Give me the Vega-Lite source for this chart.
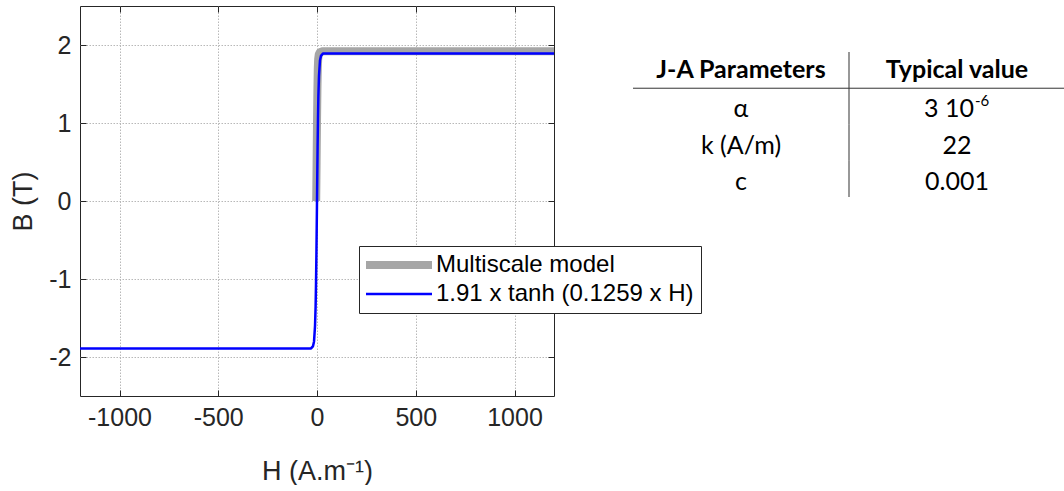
{
  "$schema": "https://vega.github.io/schema/vega-lite/v6.json",
  "background": "white",
  "padding": {"left": 9, "top": 5, "right": 0, "bottom": 0},
  "spacing": 73,
  "datasets": {
    "curves": [
      {"series": "Multiscale model", "H": -4, "B": 0},
      {"series": "Multiscale model", "H": -2, "B": 0.5},
      {"series": "Multiscale model", "H": 0, "B": 1.0},
      {"series": "Multiscale model", "H": 2, "B": 1.4},
      {"series": "Multiscale model", "H": 4, "B": 1.7},
      {"series": "Multiscale model", "H": 6, "B": 1.82},
      {"series": "Multiscale model", "H": 9, "B": 1.88},
      {"series": "Multiscale model", "H": 15, "B": 1.91},
      {"series": "Multiscale model", "H": 30, "B": 1.92},
      {"series": "Multiscale model", "H": 1200, "B": 1.92},
      {"series": "1.91 x tanh (0.1259 x H)", "H": -1200, "B": -1.89},
      {"series": "1.91 x tanh (0.1259 x H)", "H": -30, "B": -1.89},
      {"series": "1.91 x tanh (0.1259 x H)", "H": -20, "B": -1.86},
      {"series": "1.91 x tanh (0.1259 x H)", "H": -15, "B": -1.8},
      {"series": "1.91 x tanh (0.1259 x H)", "H": -10, "B": -1.6},
      {"series": "1.91 x tanh (0.1259 x H)", "H": -7, "B": -1.35},
      {"series": "1.91 x tanh (0.1259 x H)", "H": -5, "B": -1.06},
      {"series": "1.91 x tanh (0.1259 x H)", "H": -3, "B": -0.69},
      {"series": "1.91 x tanh (0.1259 x H)", "H": -1.5, "B": -0.35},
      {"series": "1.91 x tanh (0.1259 x H)", "H": 0, "B": 0},
      {"series": "1.91 x tanh (0.1259 x H)", "H": 1.5, "B": 0.35},
      {"series": "1.91 x tanh (0.1259 x H)", "H": 3, "B": 0.69},
      {"series": "1.91 x tanh (0.1259 x H)", "H": 5, "B": 1.06},
      {"series": "1.91 x tanh (0.1259 x H)", "H": 7, "B": 1.35},
      {"series": "1.91 x tanh (0.1259 x H)", "H": 10, "B": 1.6},
      {"series": "1.91 x tanh (0.1259 x H)", "H": 15, "B": 1.8},
      {"series": "1.91 x tanh (0.1259 x H)", "H": 20, "B": 1.86},
      {"series": "1.91 x tanh (0.1259 x H)", "H": 30, "B": 1.89},
      {"series": "1.91 x tanh (0.1259 x H)", "H": 1200, "B": 1.89}
    ],
    "table": [
      {"row": "h", "param": "J-A Parameters", "value": "Typical value"},
      {"row": "a", "param": "α", "value": "3 10", "sup": "-6"},
      {"row": "k", "param": "k (A/m)", "value": "22"},
      {"row": "c", "param": "c", "value": "0.001"}
    ]
  },
  "config": {
    "view": {"stroke": null},
    "font": "Liberation Sans",
    "axis": {
      "labelFont": "Liberation Sans",
      "titleFont": "Liberation Sans",
      "labelFontSize": 25,
      "titleFontSize": 27,
      "titleFontWeight": "normal",
      "labelColor": "#262626",
      "titleColor": "#262626",
      "tickColor": "#262626",
      "domain": false,
      "gridColor": "#b8b8b8",
      "gridDash": [1.5, 1.5],
      "gridWidth": 1,
      "labelExpr": "'' + datum.value"
    }
  },
  "hconcat": [
    {
      "width": 474,
      "height": 390,
      "view": {"stroke": "#262626", "strokeWidth": 1},
      "data": {"name": "curves"},
      "resolve": {"axis": {"x": "independent", "y": "independent"}},
      "layer": [
        {
          "transform": [{"filter": "datum.series === 'Multiscale model'"}],
          "mark": {"type": "line", "strokeWidth": 8, "strokeJoin": "round", "strokeCap": "butt"},
          "encoding": {
            "x": {"field": "H", "type": "quantitative", "scale": {"domain": [-1200, 1200], "nice": false, "zero": false},
              "axis": {"values": [-1000, -500, 0, 500, 1000], "title": "H (A.m⁻¹)", "grid": true, "tickSize": -6, "labelPadding": 15, "titlePadding": 28}},
            "y": {"field": "B", "type": "quantitative", "scale": {"domain": [-2.5, 2.5], "nice": false, "zero": false},
              "axis": {"values": [-2, -1, 0, 1, 2], "title": "B (T)", "grid": true, "tickSize": -6, "labelPadding": 15, "titlePadding": 11}},
            "color": {"field": "series", "type": "nominal",
              "scale": {"domain": ["Multiscale model", "1.91 x tanh (0.1259 x H)"], "range": ["#a6a6a6", "#0000ff"]},
              "legend": {
                "title": null, "orient": "none", "legendX": 279, "legendY": 240,
                "symbolType": "M-1,0H4.5", "symbolSize": 576,
                "labelFontSize": 24, "labelFont": "Liberation Sans", "labelColor": "#000000", "labelLimit": 500,
                "labelOffset": 46, "strokeColor": "#262626", "fillColor": "white", "padding": 7, "rowPadding": 1,
                "symbolStrokeWidth": 3,
                "encode": {"symbols": {"update": {"strokeWidth": {"signal": "datum.value === 'Multiscale model' ? 8 : 2.5"}}}}
              }
            }
          }
        },
        {
          "transform": [{"filter": "datum.series !== 'Multiscale model'"}],
          "mark": {"type": "line", "strokeWidth": 2.5, "strokeJoin": "round"},
          "encoding": {
            "x": {"field": "H", "type": "quantitative", "scale": {"domain": [-1200, 1200], "nice": false, "zero": false},
              "axis": {"orient": "top", "values": [-1000, -500, 0, 500, 1000], "labels": false, "title": null, "grid": false, "tickSize": -6}},
            "y": {"field": "B", "type": "quantitative", "scale": {"domain": [-2.5, 2.5], "nice": false, "zero": false},
              "axis": {"orient": "right", "values": [-2, -1, 0, 1, 2], "labels": false, "title": null, "grid": false, "tickSize": -6}},
            "color": {"field": "series", "type": "nominal"}
          }
        }
      ]
    },
    {
      "width": 432,
      "height": 191,
      "data": {"name": "table"},
      "layer": [
        {
          "transform": [{"filter": "datum.row === 'h'"}],
          "mark": {"type": "rule", "color": "#333333", "strokeWidth": 1},
          "encoding": {
            "y": {"datum": "a", "type": "nominal", "bandPosition": 0,
              "scale": {"domain": ["h", "a", "k", "c"], "paddingInner": 0, "paddingOuter": 0.634, "align": 1}, "axis": null}
          }
        },
        {
          "mark": {"type": "tick", "orient": "vertical", "size": 36.25, "thickness": 1, "color": "#333333", "opacity": 1},
          "encoding": {
            "x": {"datum": "V", "type": "nominal", "bandPosition": 0,
              "scale": {"domain": ["P", "V"], "paddingInner": 0, "paddingOuter": 0}, "axis": null},
            "y": {"field": "row", "type": "nominal", "axis": null}
          }
        },
        {
          "transform": [{"filter": "datum.row === 'h'"}],
          "mark": {"type": "text", "font": "Lato", "fontSize": 25, "fontWeight": "bold", "color": "#000000", "baseline": "alphabetic", "dy": 8},
          "encoding": {
            "x": {"datum": "P", "type": "nominal", "axis": null},
            "y": {"field": "row", "type": "nominal", "axis": null},
            "text": {"field": "param"}
          }
        },
        {
          "transform": [{"filter": "datum.row === 'h'"}],
          "mark": {"type": "text", "font": "Lato", "fontSize": 25, "fontWeight": "bold", "color": "#000000", "baseline": "alphabetic", "dy": 8},
          "encoding": {
            "x": {"datum": "V", "type": "nominal", "axis": null},
            "y": {"field": "row", "type": "nominal", "axis": null},
            "text": {"field": "value"}
          }
        },
        {
          "transform": [{"filter": "datum.row !== 'h'"}],
          "mark": {"type": "text", "font": "Lato", "fontSize": 25, "color": "#000000", "baseline": "alphabetic", "dy": 11},
          "encoding": {
            "x": {"datum": "P", "type": "nominal", "axis": null},
            "y": {"field": "row", "type": "nominal", "axis": null},
            "text": {"field": "param"}
          }
        },
        {
          "transform": [{"filter": "datum.row !== 'h' && !datum.sup"}],
          "mark": {"type": "text", "font": "Lato", "fontSize": 25, "color": "#000000", "baseline": "alphabetic", "dy": 11},
          "encoding": {
            "x": {"datum": "V", "type": "nominal", "axis": null},
            "y": {"field": "row", "type": "nominal", "axis": null},
            "text": {"field": "value"}
          }
        },
        {
          "transform": [{"filter": "datum.sup"}],
          "mark": {"type": "text", "font": "Lato", "fontSize": 25, "color": "#000000", "baseline": "alphabetic", "align": "right", "dx": 17, "dy": 11},
          "encoding": {
            "x": {"datum": "V", "type": "nominal", "axis": null},
            "y": {"field": "row", "type": "nominal", "axis": null},
            "text": {"field": "value"}
          }
        },
        {
          "transform": [{"filter": "datum.sup"}],
          "mark": {"type": "text", "font": "Lato", "fontSize": 15, "color": "#000000", "baseline": "alphabetic", "align": "left", "dx": 18, "dy": 0},
          "encoding": {
            "x": {"datum": "V", "type": "nominal", "axis": null},
            "y": {"field": "row", "type": "nominal", "axis": null},
            "text": {"field": "sup"}
          }
        }
      ]
    }
  ]
}
